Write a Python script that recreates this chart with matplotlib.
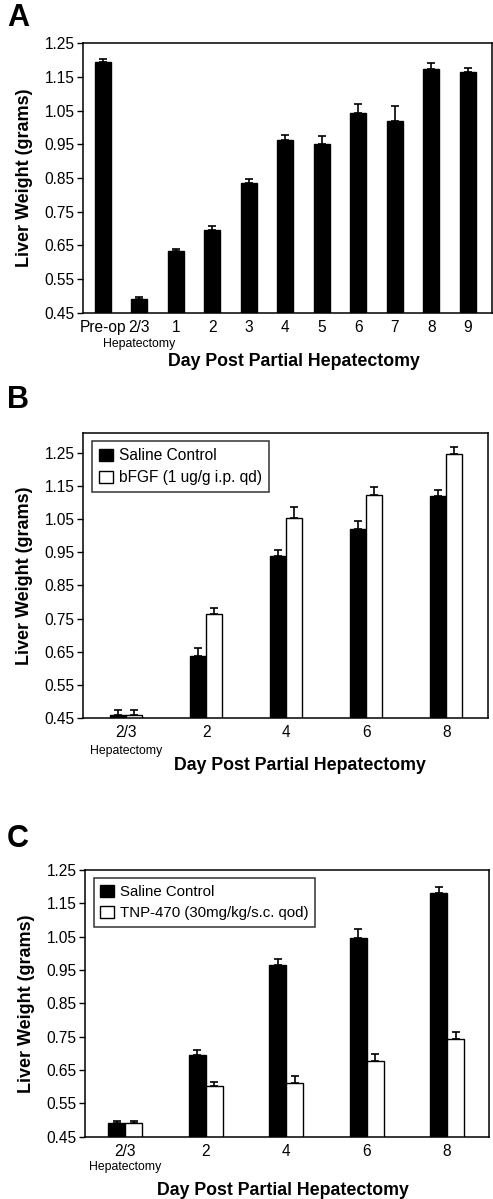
import matplotlib.pyplot as plt
import matplotlib.transforms as mtransforms
import numpy as np

plt.rcParams['font.family'] = ['Liberation Sans', 'DejaVu Sans']

# panel A: liver weight after partial hepatectomy
a_labels = ["Pre-op", "2/3", "1", "2", "3", "4", "5", "6", "7", "8", "9"]
a_mean = [1.195, 0.492, 0.635, 0.695, 0.835, 0.962, 0.950, 1.044, 1.020, 1.174, 1.164]
a_err = [0.009, 0.006, 0.005, 0.014, 0.012, 0.016, 0.026, 0.026, 0.043, 0.018, 0.013]

# panel B: saline vs bFGF
b_labels = ["2/3", "2", "4", "6", "8"]
b_saline = [0.459, 0.636, 0.938, 1.020, 1.120]
b_saline_err = [0.016, 0.025, 0.018, 0.024, 0.019]
b_bfgf = [0.459, 0.763, 1.053, 1.122, 1.247]
b_bfgf_err = [0.016, 0.018, 0.034, 0.025, 0.019]

# panel C: saline vs TNP-470
c_labels = ["2/3", "2", "4", "6", "8"]
c_saline = [0.491, 0.694, 0.966, 1.047, 1.180]
c_saline_err = [0.005, 0.016, 0.016, 0.025, 0.018]
c_tnp = [0.491, 0.602, 0.612, 0.676, 0.742]
c_tnp_err = [0.007, 0.013, 0.019, 0.021, 0.022]

yticks = [0.45, 0.55, 0.65, 0.75, 0.85, 0.95, 1.05, 1.15, 1.25]

fig = plt.figure(figsize=(4.93, 11.99), dpi=100)
axA = fig.add_axes([0.168, 0.739, 0.830, 0.225])
axB = fig.add_axes([0.168, 0.401, 0.822, 0.238])
axC = fig.add_axes([0.172, 0.052, 0.820, 0.2225])

ekw = dict(ecolor="black", elinewidth=1.2, capsize=2.8, capthick=1.2)


def style(ax, labels, ylim, xpad=14, xlab_x=0.5):
    ax.set_ylim(*ylim)
    ax.set_yticks(yticks)
    ax.set_yticklabels([f"{t:.2f}" for t in yticks], fontsize=11.2)
    ax.set_xticks(np.arange(len(labels)))
    ax.set_xticklabels(labels, fontsize=11.2)
    ax.tick_params(axis="x", length=0, pad=5)
    ax.tick_params(axis="y", length=4, width=1, direction="out", pad=2)
    for s in ax.spines.values():
        s.set_linewidth(1.1)
    ax.set_ylabel("Liver Weight (grams)", fontsize=13, fontweight="bold", labelpad=8)
    ax.set_xlabel("Day Post Partial Hepatectomy", fontsize=12.8, fontweight="bold",
                  labelpad=xpad, x=xlab_x)
    trans = mtransforms.blended_transform_factory(ax.transData, ax.transAxes)
    idx = labels.index("2/3")
    ax.text(idx, -0.115, "Hepatectomy", transform=trans, ha="center", va="center", fontsize=8.8)


# A
xa = np.arange(len(a_labels))
axA.bar(xa, a_mean, width=0.44, color="black", edgecolor="black",
        yerr=[np.zeros(len(a_err)), a_err], error_kw=ekw)
axA.set_xlim(-0.55, 10.66)
style(axA, a_labels, (0.45, 1.25), xpad=13, xlab_x=0.516)

# B
w = 0.2
xb = np.arange(len(b_labels))
axB.bar(xb - w / 2, b_saline, width=w, color="black", edgecolor="black", linewidth=1,
        yerr=[np.zeros(5), b_saline_err], error_kw=ekw, label="Saline Control")
axB.bar(xb + w / 2, b_bfgf, width=w, color="white", edgecolor="black", linewidth=1,
        yerr=[np.zeros(5), b_bfgf_err], error_kw=ekw, label="bFGF (1 ug/g i.p. qd)")
axB.set_xlim(-0.54, 4.52)
style(axB, b_labels, (0.45, 1.31), xpad=12, xlab_x=0.535)

# C
w = 0.21
xc = np.arange(len(c_labels))
axC.bar(xc - w / 2, c_saline, width=w, color="black", edgecolor="black", linewidth=1,
        yerr=[np.zeros(5), c_saline_err], error_kw=ekw, label="Saline Control")
axC.bar(xc + w / 2, c_tnp, width=w, color="white", edgecolor="black", linewidth=1,
        yerr=[np.zeros(5), c_tnp_err], error_kw=ekw, label="TNP-470 (30mg/kg/s.c. qod)")
axC.set_xlim(-0.5, 4.52)
style(axC, c_labels, (0.45, 1.25), xpad=17, xlab_x=0.49)

for ax, fs in ((axB, 11.2), (axC, 10.8)):
    leg = ax.legend(loc="upper left", bbox_to_anchor=(0.022, 0.97), fontsize=fs,
                    frameon=True, fancybox=False, handlelength=0.9, handleheight=0.9,
                    handletextpad=0.4, borderpad=0.45, labelspacing=0.45, borderaxespad=0)
    leg.get_frame().set_edgecolor("black")
    leg.get_frame().set_linewidth(1.1)

fig.text(0.014, 0.985, "A", fontsize=22, fontweight="bold", va="center")
fig.text(0.014, 0.666, "B", fontsize=22, fontweight="bold", va="center")
fig.text(0.014, 0.300, "C", fontsize=22, fontweight="bold", va="center")

fig.savefig("out.png", dpi=100)
